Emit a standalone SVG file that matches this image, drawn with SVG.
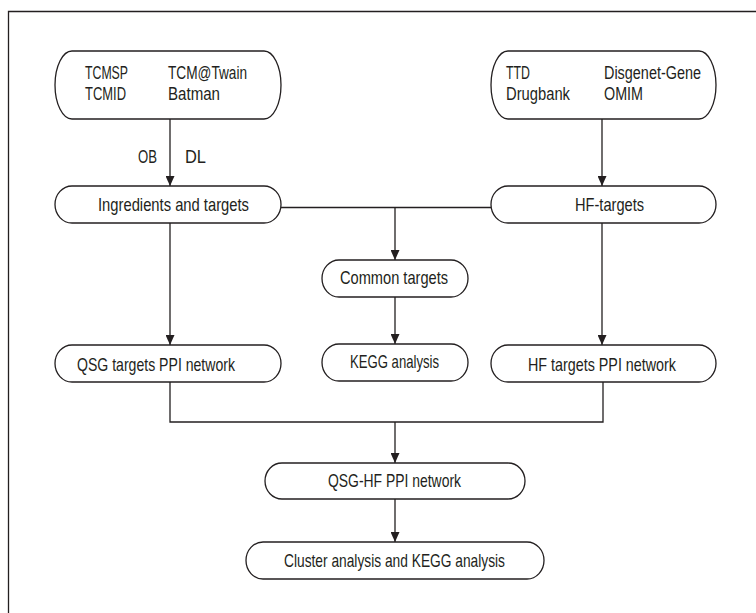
<svg xmlns="http://www.w3.org/2000/svg" width="756" height="613" viewBox="0 0 756 613">
<defs>
<style>
.n{fill:#fff;stroke:#231f20;stroke-width:1.3}
.t{font-family:"Liberation Sans",Arial,sans-serif;font-size:18.5px;fill:#231f20}
.s{font-size:17.5px}
.c{fill:none;stroke:#231f20;stroke-width:1.3}
</style>
<marker id="ah" markerUnits="userSpaceOnUse" markerWidth="10" markerHeight="9" refX="10" refY="4.5" orient="auto">
<path d="M0,0 L10,4.5 L0,9 z" fill="#231f20"/>
</marker>
</defs>
<rect width="756" height="613" fill="#fff"/>
<path d="M8.5,613 V11.5 H756" fill="none" stroke="#231f20" stroke-width="1.3"/>
<g id="connectors">
<line class="c" x1="170" y1="119" x2="170" y2="186" marker-end="url(#ah)"/>
<line class="c" x1="602" y1="119" x2="602" y2="186" marker-end="url(#ah)"/>
<line class="c" x1="281" y1="207.5" x2="491" y2="207.5"/>
<line class="c" x1="395" y1="207.5" x2="395" y2="260" marker-end="url(#ah)"/>
<line class="c" x1="395" y1="297" x2="395" y2="344" marker-end="url(#ah)"/>
<line class="c" x1="170" y1="223" x2="170" y2="345" marker-end="url(#ah)"/>
<line class="c" x1="602" y1="223" x2="602" y2="345" marker-end="url(#ah)"/>
<path class="c" d="M170,382 V422 H603 V382"/>
<line class="c" x1="395" y1="422" x2="395" y2="463" marker-end="url(#ah)"/>
<line class="c" x1="395" y1="499" x2="395" y2="542" marker-end="url(#ah)"/>
<text class="t s" x="138" y="163" textLength="19" lengthAdjust="spacingAndGlyphs">OB</text>
<text class="t s" x="185" y="163" textLength="21" lengthAdjust="spacingAndGlyphs">DL</text>
</g>
<g id="n-tcm">
<path class="n" d="M72,51 H264 A17,34 0 0 1 264,119 H72 A17,34 0 0 1 72,51 Z"/>
<text class="t s" x="85" y="79" textLength="43" lengthAdjust="spacingAndGlyphs">TCMSP</text>
<text class="t s" x="85" y="100" textLength="41" lengthAdjust="spacingAndGlyphs">TCMID</text>
<text class="t s" x="168" y="79" textLength="79" lengthAdjust="spacingAndGlyphs">TCM@Twain</text>
<text class="t s" x="168" y="100" textLength="52" lengthAdjust="spacingAndGlyphs">Batman</text>
</g>
<g id="n-ttd">
<path class="n" d="M508,51 H699 A17,34 0 0 1 699,119 H508 A17,34 0 0 1 508,51 Z"/>
<text class="t s" x="506" y="79" textLength="24" lengthAdjust="spacingAndGlyphs">TTD</text>
<text class="t s" x="506" y="100" textLength="64" lengthAdjust="spacingAndGlyphs">Drugbank</text>
<text class="t s" x="604" y="79" textLength="97" lengthAdjust="spacingAndGlyphs">Disgenet-Gene</text>
<text class="t s" x="604" y="100" textLength="39" lengthAdjust="spacingAndGlyphs">OMIM</text>
</g>
<g id="n-ingredients">
<path class="n" d="M72,186 H264 A17,18.5 0 0 1 264,223 H72 A17,18.5 0 0 1 72,186 Z"/>
<text class="t" x="98" y="211" textLength="151" lengthAdjust="spacingAndGlyphs">Ingredients and targets</text>
</g>
<g id="n-hf">
<path class="n" d="M508,186 H699 A17,18.5 0 0 1 699,223 H508 A17,18.5 0 0 1 508,186 Z"/>
<text class="t" x="575" y="211" textLength="69" lengthAdjust="spacingAndGlyphs">HF-targets</text>
</g>
<g id="n-common">
<path class="n" d="M339,260 H451 A17,18.5 0 0 1 451,297 H339 A17,18.5 0 0 1 339,260 Z"/>
<text class="t" x="340" y="284" textLength="108" lengthAdjust="spacingAndGlyphs">Common targets</text>
</g>
<g id="n-kegg">
<path class="n" d="M339,344 H451 A17,18.5 0 0 1 451,381 H339 A17,18.5 0 0 1 339,344 Z"/>
<text class="t" x="350" y="368" textLength="89" lengthAdjust="spacingAndGlyphs">KEGG analysis</text>
</g>
<g id="n-qsgppi">
<path class="n" d="M72,345 H264 A17,18.5 0 0 1 264,382 H72 A17,18.5 0 0 1 72,345 Z"/>
<text class="t" x="77" y="371" textLength="158" lengthAdjust="spacingAndGlyphs">QSG targets PPI network</text>
</g>
<g id="n-hfppi">
<path class="n" d="M508,345 H699 A17,18.5 0 0 1 699,382 H508 A17,18.5 0 0 1 508,345 Z"/>
<text class="t" x="528" y="371" textLength="148" lengthAdjust="spacingAndGlyphs">HF targets PPI network</text>
</g>
<g id="n-qsghf">
<path class="n" d="M282,463 H508 A17,18 0 0 1 508,499 H282 A17,18 0 0 1 282,463 Z"/>
<text class="t" x="328" y="487" textLength="133" lengthAdjust="spacingAndGlyphs">QSG-HF PPI network</text>
</g>
<g id="n-cluster">
<path class="n" d="M263,542 H527 A17,18.5 0 0 1 527,579 H263 A17,18.5 0 0 1 263,542 Z"/>
<text class="t" x="284" y="567" textLength="221" lengthAdjust="spacingAndGlyphs">Cluster analysis and KEGG analysis</text>
</g>
</svg>
